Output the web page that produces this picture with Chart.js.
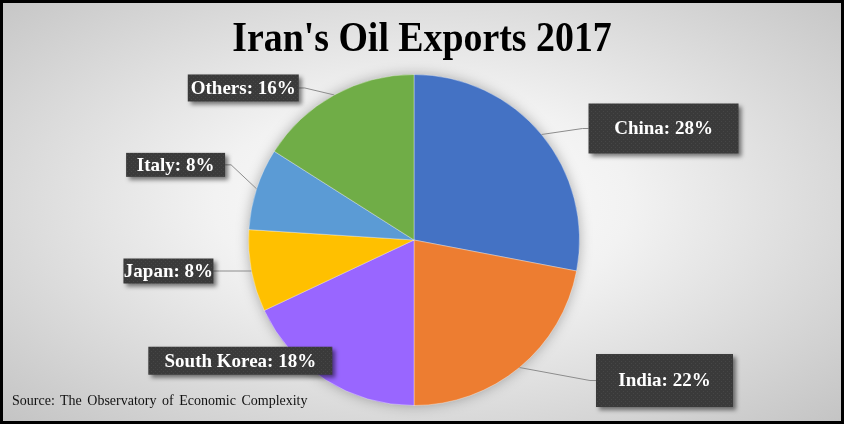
<!DOCTYPE html>
<html>
<head>
<meta charset="utf-8">
<script src="https://cdn.jsdelivr.net/npm/chart.js@4.4.1/dist/chart.umd.min.js"></script>
<style>
  html, body { margin: 0; padding: 0; }
  #frame {
    position: relative;
    width: 844px; height: 424px;
    box-sizing: border-box;
    border: 3px solid #000;
    background: radial-gradient(ellipse farthest-corner at 50% 48%, #ffffff 0%, #f2f2f2 35%, #c4c4c4 100%);
    overflow: hidden;
  }
  #title {
    position: absolute; left: 0; right: 0; top: 9px;
    text-align: center;
    font-family: "Liberation Serif", serif; font-weight: bold;
    font-size: 43px; color: #000;
    transform: scaleX(0.88);
  }
  #source {
    position: absolute; left: 9px; top: 390px;
    font-family: "Liberation Serif", serif; font-size: 14px; color: #111;
    word-spacing: 2px;
  }
  canvas { position: absolute; left: 0; top: 0; }
</style>
</head>
<body>
<div id="frame">
  <canvas id="oilPie" width="838" height="418"></canvas>
  <div id="title">Iran's Oil Exports 2017</div>
  <div id="source">Source: The Observatory of Economic Complexity</div>
</div>
<script>
// datos
const countries = ['China', 'India', 'South Korea', 'Japan', 'Italy', 'Others'];
const shares = [28, 22, 18, 8, 8, 16];
const sliceColors = ['#4472C4', '#ED7D31', '#9966FF', '#FFC000', '#5B9BD5', '#70AD47'];

// posicion de las etiquetas respecto al borde del sector (dx, dy) y tamaño de la caja
const labelShift = [[122, -6], [145, 13], [-85, -19], [-83, 0], [-81, -24], [-91, -7]];
const boxSize = [[150, 50], [137, 53], [184, 28], [90, 25], [99, 24], [111, 27]];
const showLeader = [true, true, false, true, true, true];

function dotPattern(ctx) {
  const c = document.createElement('canvas');
  c.width = 4; c.height = 4;
  const p = c.getContext('2d');
  p.fillStyle = '#3a3a3a';
  p.fillRect(0, 0, 4, 4);
  p.fillStyle = '#464646';
  p.fillRect(0, 0, 1, 1);
  p.fillRect(2, 2, 1, 1);
  return ctx.createPattern(c, 'repeat');
}

// sombra detras del pastel
const pieShadow = {
  id: 'pieShadow',
  beforeDatasetsDraw(chart) {
    const arc = chart.getDatasetMeta(0).data[0];
    if (!arc) return;
    const ctx = chart.ctx;
    ctx.save();
    ctx.shadowColor = 'rgba(0,0,0,0.35)';
    ctx.shadowBlur = 14;
    ctx.fillStyle = '#888';
    ctx.beginPath();
    ctx.arc(arc.x, arc.y, arc.outerRadius - 1, 0, Math.PI * 2);
    ctx.fill();
    ctx.restore();
  }
};

// cajas de etiquetas con lineas guia
const boxLabels = {
  id: 'boxLabels',
  afterDatasetsDraw(chart) {
    const ctx = chart.ctx;
    const pattern = dotPattern(ctx);
    chart.getDatasetMeta(0).data.forEach((arc, i) => {
      const mid = (arc.startAngle + arc.endAngle) / 2;
      const ex = arc.x + Math.cos(mid) * arc.outerRadius;
      const ey = arc.y + Math.sin(mid) * arc.outerRadius;
      const cx = ex + labelShift[i][0], cy = ey + labelShift[i][1];
      const w = boxSize[i][0], h = boxSize[i][1];
      const left = cx - w / 2, top = cy - h / 2;

      if (showLeader[i]) {
        const sx = labelShift[i][0] > 0 ? left : left + w;
        const stub = labelShift[i][0] > 0 ? -6 : 6;
        ctx.save();
        ctx.strokeStyle = '#8c8c8c';
        ctx.lineWidth = 1;
        ctx.beginPath();
        ctx.moveTo(sx, cy);
        ctx.lineTo(sx + stub, cy);
        ctx.lineTo(ex, ey);
        ctx.stroke();
        ctx.restore();
      }

      ctx.save();
      ctx.shadowColor = 'rgba(0,0,0,0.5)';
      ctx.shadowOffsetX = 3;
      ctx.shadowOffsetY = 3;
      ctx.shadowBlur = 4;
      ctx.fillStyle = pattern;
      ctx.fillRect(left, top, w, h);
      ctx.restore();

      ctx.save();
      ctx.fillStyle = '#ffffff';
      ctx.font = 'bold 19px "Liberation Serif", serif';
      ctx.textAlign = 'center';
      ctx.textBaseline = 'middle';
      ctx.fillText(countries[i] + ': ' + shares[i] + '%', cx, cy + 1);
      ctx.restore();
    });
  }
};

new Chart(document.getElementById('oilPie'), {
  type: 'pie',
  data: {
    labels: countries,
    datasets: [{
      data: shares,
      backgroundColor: sliceColors,
      borderColor: 'rgba(255,255,255,0.35)',
      borderWidth: 1
    }]
  },
  options: {
    responsive: false,
    animation: false,
    layout: { padding: { top: 71, bottom: 15, left: 0, right: 16 } },
    plugins: {
      legend: { display: false },
      tooltip: { enabled: false },
      title: { display: false }
    }
  },
  plugins: [pieShadow, boxLabels]
});
</script>
</body>
</html>
